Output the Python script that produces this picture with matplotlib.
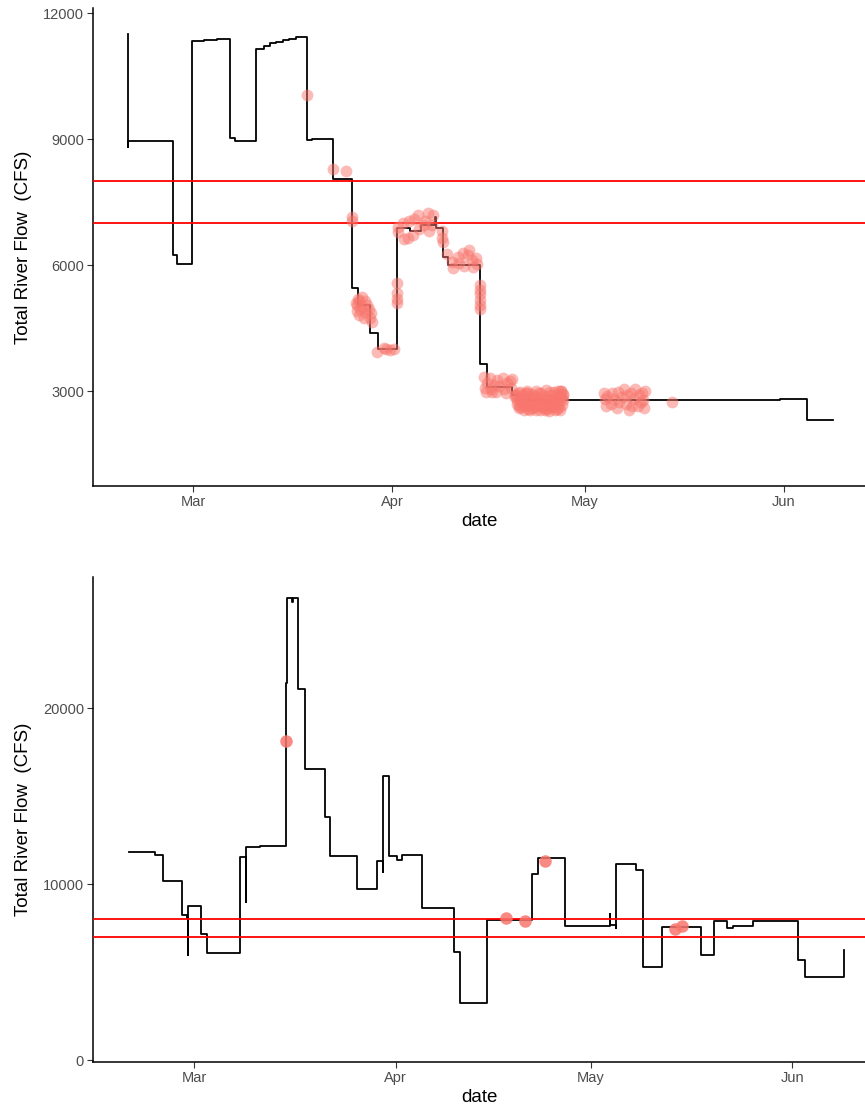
import matplotlib
matplotlib.use("Agg")
import matplotlib.pyplot as plt
import matplotlib.dates as mdates
import pandas as pd

plt.rcParams["font.family"] = ["Liberation Sans", "DejaVu Sans"]

# ---- Upstream gauge: hourly total river flow (step series) ----
upper_times = [
    "2021-02-18 20:00", "2021-02-18 21:00", "2021-02-18 22:00", "2021-02-25 20:00",
    "2021-02-26 12:00", "2021-02-28 19:00", "2021-03-02 18:00", "2021-03-04 18:00",
    "2021-03-06 18:00", "2021-03-07 12:00", "2021-03-10 19:00", "2021-03-12 00:00",
    "2021-03-13 00:00", "2021-03-14 00:00", "2021-03-15 00:00", "2021-03-16 00:00",
    "2021-03-17 00:00", "2021-03-18 17:00", "2021-03-19 12:00", "2021-03-22 19:00",
    "2021-03-25 17:00", "2021-03-26 18:00", "2021-03-28 14:00", "2021-03-29 18:00",
    "2021-04-01 17:00", "2021-04-03 19:00", "2021-04-05 12:00", "2021-04-07 17:00",
    "2021-04-07 20:00", "2021-04-08 21:00", "2021-04-09 18:00", "2021-04-14 17:00",
    "2021-04-15 18:00", "2021-04-19 15:00", "2021-04-20 15:00", "2021-05-31 10:00",
    "2021-06-04 14:00", "2021-06-08 17:00",
]
upper_flow = [
    11500, 8800, 8950, 6250,
    6020, 11330, 11360, 11390,
    9020, 8950, 11150, 11220,
    11280, 11320, 11350, 11390,
    11420, 8970, 9000, 8040,
    5450, 5050, 4390, 3990,
    6880, 6800, 6950, 7150,
    6880, 6200, 6000, 3650,
    3100, 2900, 2780, 2800,
    2310, 2310,
]

# Observations taken at the upstream site
upper_obs_times = [
    "2021-03-18 17:00", "2021-03-22 19:00", "2021-03-24 19:00", "2021-03-25 17:00",
    "2021-03-25 17:00",
    "2021-03-26 10:00", "2021-03-26 12:00", "2021-03-26 17:00", "2021-03-26 20:00",
    "2021-03-27 08:00", "2021-03-27 10:00", "2021-03-27 19:00", "2021-03-27 22:00",
    "2021-03-28 10:00", "2021-03-28 12:00", "2021-03-28 21:00", "2021-03-28 18:00",
    "2021-03-26 14:00", "2021-03-27 02:00", "2021-03-27 14:00", "2021-03-28 04:00",
    "2021-03-26 22:00",
    "2021-03-29 16:00", "2021-03-30 18:00", "2021-03-31 00:00", "2021-03-31 17:00",
    "2021-04-01 07:00",
    "2021-04-01 17:00", "2021-04-01 17:00", "2021-04-01 17:00", "2021-04-01 17:00",
    "2021-04-01 22:00", "2021-04-02 00:00", "2021-04-02 17:00", "2021-04-02 20:00",
    "2021-04-03 12:00", "2021-04-03 14:00", "2021-04-04 07:00", "2021-04-04 10:00",
    "2021-04-05 02:00", "2021-04-05 05:00", "2021-04-05 22:00", "2021-04-06 02:00",
    "2021-04-06 15:00", "2021-04-06 18:00", "2021-04-07 10:00", "2021-04-07 04:00",
    "2021-04-08 19:00", "2021-04-08 20:00", "2021-04-08 21:00",
    "2021-04-09 13:00", "2021-04-10 08:00", "2021-04-10 12:00", "2021-04-11 06:00",
    "2021-04-11 10:00", "2021-04-12 01:00", "2021-04-12 06:00", "2021-04-12 20:00",
    "2021-04-13 00:00", "2021-04-13 11:00", "2021-04-13 15:00", "2021-04-14 02:00",
    "2021-04-14 05:00",
    "2021-04-14 17:00", "2021-04-14 17:00", "2021-04-14 17:00", "2021-04-14 17:00",
    "2021-04-14 17:00", "2021-04-14 17:00",
    "2021-04-15 08:00", "2021-04-15 10:00", "2021-04-16 06:00", "2021-04-16 09:00",
    "2021-04-17 08:00", "2021-04-17 04:00", "2021-04-18 07:00", "2021-04-18 10:00",
    "2021-04-19 09:00", "2021-04-19 12:00", "2021-04-15 14:00", "2021-04-20 04:00",
    "2021-04-15 20:00", "2021-04-16 14:00", "2021-04-17 16:00", "2021-04-18 18:00",
    "2021-04-19 18:00", "2021-04-16 20:00", "2021-04-18 22:00",
    "2021-04-20 06:00", "2021-04-20 10:00", "2021-04-20 18:00", "2021-04-21 00:00",
    "2021-04-21 06:00", "2021-04-21 12:00", "2021-04-21 18:00", "2021-04-22 00:00",
    "2021-04-22 06:00", "2021-04-22 12:00", "2021-04-22 18:00", "2021-04-23 00:00",
    "2021-04-23 06:00", "2021-04-23 12:00", "2021-04-23 18:00", "2021-04-24 00:00",
    "2021-04-24 06:00", "2021-04-24 12:00", "2021-04-24 18:00", "2021-04-25 00:00",
    "2021-04-25 06:00", "2021-04-25 12:00", "2021-04-25 18:00", "2021-04-26 00:00",
    "2021-04-26 06:00", "2021-04-26 12:00", "2021-04-26 18:00", "2021-04-27 00:00",
    "2021-04-27 06:00", "2021-04-27 12:00", "2021-04-27 16:00", "2021-04-27 03:00",
    "2021-04-27 14:00", "2021-04-27 09:00", "2021-04-20 22:00", "2021-04-22 21:00",
    "2021-04-24 21:00", "2021-04-26 21:00", "2021-04-23 21:00", "2021-04-25 21:00",
    "2021-04-21 21:00",
    "2021-04-20 03:00", "2021-04-20 14:00", "2021-04-21 03:00", "2021-04-21 09:00",
    "2021-04-21 15:00", "2021-04-22 03:00", "2021-04-22 09:00", "2021-04-22 15:00",
    "2021-04-23 03:00", "2021-04-23 09:00", "2021-04-23 15:00", "2021-04-24 03:00",
    "2021-04-24 09:00", "2021-04-24 15:00", "2021-04-25 03:00", "2021-04-25 09:00",
    "2021-04-25 15:00", "2021-04-26 03:00", "2021-04-26 09:00", "2021-04-26 15:00",
    "2021-04-27 01:00", "2021-04-27 11:00", "2021-04-27 15:00", "2021-04-21 02:00",
    "2021-04-22 02:00", "2021-04-23 02:00", "2021-04-24 02:00", "2021-04-25 02:00",
    "2021-04-26 02:00", "2021-04-20 20:00", "2021-04-21 20:00", "2021-04-22 20:00",
    "2021-04-23 20:00", "2021-04-24 20:00", "2021-04-25 20:00", "2021-04-26 20:00",
    "2021-04-27 05:00", "2021-04-20 12:00",
    "2021-05-04 00:00", "2021-05-04 04:00", "2021-05-04 12:00", "2021-05-05 02:00",
    "2021-05-05 06:00", "2021-05-06 00:00", "2021-05-06 20:00", "2021-05-07 04:00",
    "2021-05-07 10:00", "2021-05-07 20:00", "2021-05-08 06:00", "2021-05-08 14:00",
    "2021-05-08 20:00", "2021-05-09 06:00", "2021-05-09 12:00", "2021-05-10 02:00",
    "2021-05-10 06:00", "2021-05-10 08:00",
    "2021-05-04 08:00", "2021-05-05 12:00", "2021-05-06 10:00", "2021-05-07 14:00",
    "2021-05-08 10:00", "2021-05-09 18:00", "2021-05-10 00:00", "2021-05-06 04:00",
    "2021-05-14 13:00",
]
upper_obs_flow = [
    10050, 8280, 8230, 7150,
    7060,
    5100, 4900, 5200, 4800,
    5250, 5000, 5150, 4850,
    4950, 4750, 4650, 4850,
    5050, 4950, 4750, 5050,
    5150,
    3930, 4020, 4000, 3970,
    3990,
    5570, 5330, 5200, 5100,
    6900, 6780, 7000, 6620,
    6650, 7050, 6720, 7100,
    7180, 6850, 6950, 7050,
    7250, 6800, 7200, 6950,
    6800, 6650, 6550,
    6260, 6070, 5930, 6190,
    6060, 6290, 5980, 6240,
    6360, 6120, 5950, 6170,
    6030,
    5530, 5400, 5300, 5170,
    5050, 4950,
    3330, 3080, 3300, 3060,
    3260, 2980, 3300, 3060,
    3250, 3080, 2980, 2900,
    3200, 2980, 3120, 2960,
    3280, 3150, 3200,
    2900, 2700, 2600, 2980,
    2780, 2560, 2860, 3010,
    2680, 2540, 2920, 2760,
    2620, 3000, 2840, 2560,
    2950, 2700, 2600, 3020,
    2800, 2530, 2900, 2650,
    2980, 2760, 2580, 2870,
    3000, 2680, 2780, 2550,
    2940, 3010, 2800, 2850,
    2820, 2720, 2680, 2620,
    2650,
    2850, 2950, 2620, 2900,
    2700, 2580, 2800, 2700,
    2880, 2560, 2720, 2780,
    2620, 2880, 2650, 2720,
    2980, 2820, 2560, 2900,
    2620, 2830, 2900, 2750,
    2950, 2650, 2700, 2580,
    2770, 2650, 2950, 2600,
    2950, 2560, 2760, 3000,
    2850, 2780,
    2950, 2800, 2880, 2700,
    2950, 2600, 2850, 3050,
    2700, 2550, 2950, 2800,
    3050, 2650, 2900, 2780,
    2600, 3000,
    2650, 2800, 2750, 2900,
    2650, 2750, 2950, 2980,
    2750,
]

# ---- Downstream gauge: hourly total river flow (step series) ----
lower_times = [
    "2021-02-19 00:00", "2021-02-23 00:00", "2021-02-24 04:00", "2021-02-27 04:00",
    "2021-02-27 21:00", "2021-02-28 00:00", "2021-02-28 01:00", "2021-03-02 02:00",
    "2021-03-02 23:00", "2021-03-08 02:00", "2021-03-09 00:00", "2021-03-09 01:00",
    "2021-03-11 04:00", "2021-03-15 04:00", "2021-03-15 05:00", "2021-03-15 06:00",
    "2021-03-16 00:00", "2021-03-16 06:00", "2021-03-17 01:00", "2021-03-18 02:00",
    "2021-03-21 04:00", "2021-03-21 22:00", "2021-03-26 01:00", "2021-03-29 02:00",
    "2021-03-30 01:00", "2021-03-30 02:00", "2021-03-31 01:00", "2021-04-01 05:00",
    "2021-04-01 23:00", "2021-04-05 01:00", "2021-04-10 00:00", "2021-04-10 22:00",
    "2021-04-15 01:00", "2021-04-21 23:00", "2021-04-22 23:00", "2021-04-27 02:00",
    "2021-05-04 00:00", "2021-05-04 01:00", "2021-05-04 22:00", "2021-05-04 23:00",
    "2021-05-08 01:00", "2021-05-09 00:00", "2021-05-12 01:00", "2021-05-17 23:00",
    "2021-05-20 01:00", "2021-05-21 22:00", "2021-05-22 23:00", "2021-05-26 00:00",
    "2021-06-01 23:00", "2021-06-02 23:00", "2021-06-09 00:00",
]
lower_flow = [
    11830, 11650, 10150, 8240,
    8100, 5970, 8770, 7160,
    6100, 11550, 9000, 12120,
    12190, 18140, 21400, 26230,
    26000, 26230, 21080, 16520,
    13830, 11610, 9750, 11300,
    10700, 16150, 11590, 11360,
    11650, 8620, 6150, 3260,
    7950, 10600, 11470, 7610,
    8300, 7700, 7500, 11140,
    10830, 5300, 7580, 6000,
    7900, 7500, 7630, 7920,
    5720, 4700, 6250,
]

lower_obs_times = [
    "2021-03-15 04:00", "2021-04-18 00:00", "2021-04-20 22:00", "2021-04-24 00:00",
    "2021-05-14 00:00", "2021-05-15 00:00",
]
lower_obs_flow = [18140, 8050, 7900, 11330, 7480, 7630]

# Flow band of interest (CFS)
band_limits = [7000, 8000]

upper_ticks = [3000, 6000, 9000, 12000]
lower_ticks = [0, 10000, 20000]

W, H = 865, 1113
fig = plt.figure(figsize=(W / 100, H / 100), dpi=100)
ax_top = fig.add_axes([93 / W, 1 - 486 / H, (W - 93) / W, 478 / H])
ax_bot = fig.add_axes([93 / W, 1 - 1062 / H, (W - 93) / W, 485 / H])

mar1 = pd.Timestamp("2021-03-01")
day = pd.Timedelta(days=1)

panels = [
    (ax_top, upper_times, upper_flow, upper_obs_times, upper_obs_flow,
     upper_ticks, (740, 12120), (-15.58, 104.67), 0.5, 8.5),
    (ax_bot, lower_times, lower_flow, lower_obs_times, lower_obs_flow,
     lower_ticks, (-100, 27440), (-15.54, 103.2), 0.85, 9.0),
]

for ax, t, q, ot, oq, yt, ylim, xl, alpha, ms in panels:
    ax.plot(pd.to_datetime(t), q, drawstyle="steps-post", color="black",
            lw=1.3, zorder=2)
    for lim in band_limits:
        ax.axhline(lim, color="#FF0000", lw=1.3, zorder=3)
    ax.plot(pd.to_datetime(ot), oq, linestyle="none", marker="o",
            markersize=ms, markeredgewidth=0, color="#F8766D", alpha=alpha,
            zorder=4)

    ax.set_ylim(*ylim)
    ax.set_xlim(mar1 + xl[0] * day, mar1 + xl[1] * day)
    ax.set_yticks(yt)
    ax.xaxis.set_major_locator(mdates.MonthLocator())
    ax.xaxis.set_major_formatter(mdates.DateFormatter("%b"))

    for side in ("top", "right"):
        ax.spines[side].set_visible(False)
    for side in ("left", "bottom"):
        ax.spines[side].set_color("black")
        ax.spines[side].set_linewidth(1.1)
    ax.tick_params(axis="both", length=4, width=0.8, color="#333333",
                   labelcolor="#4D4D4D", labelsize=10.5, pad=2.5)
    ax.set_xlabel("date", fontsize=13.5, color="black", labelpad=3)
    ax.set_ylabel("Total River Flow  (CFS)", fontsize=13.5, color="black",
                  labelpad=8)

fig.savefig("out.png", dpi=100)
